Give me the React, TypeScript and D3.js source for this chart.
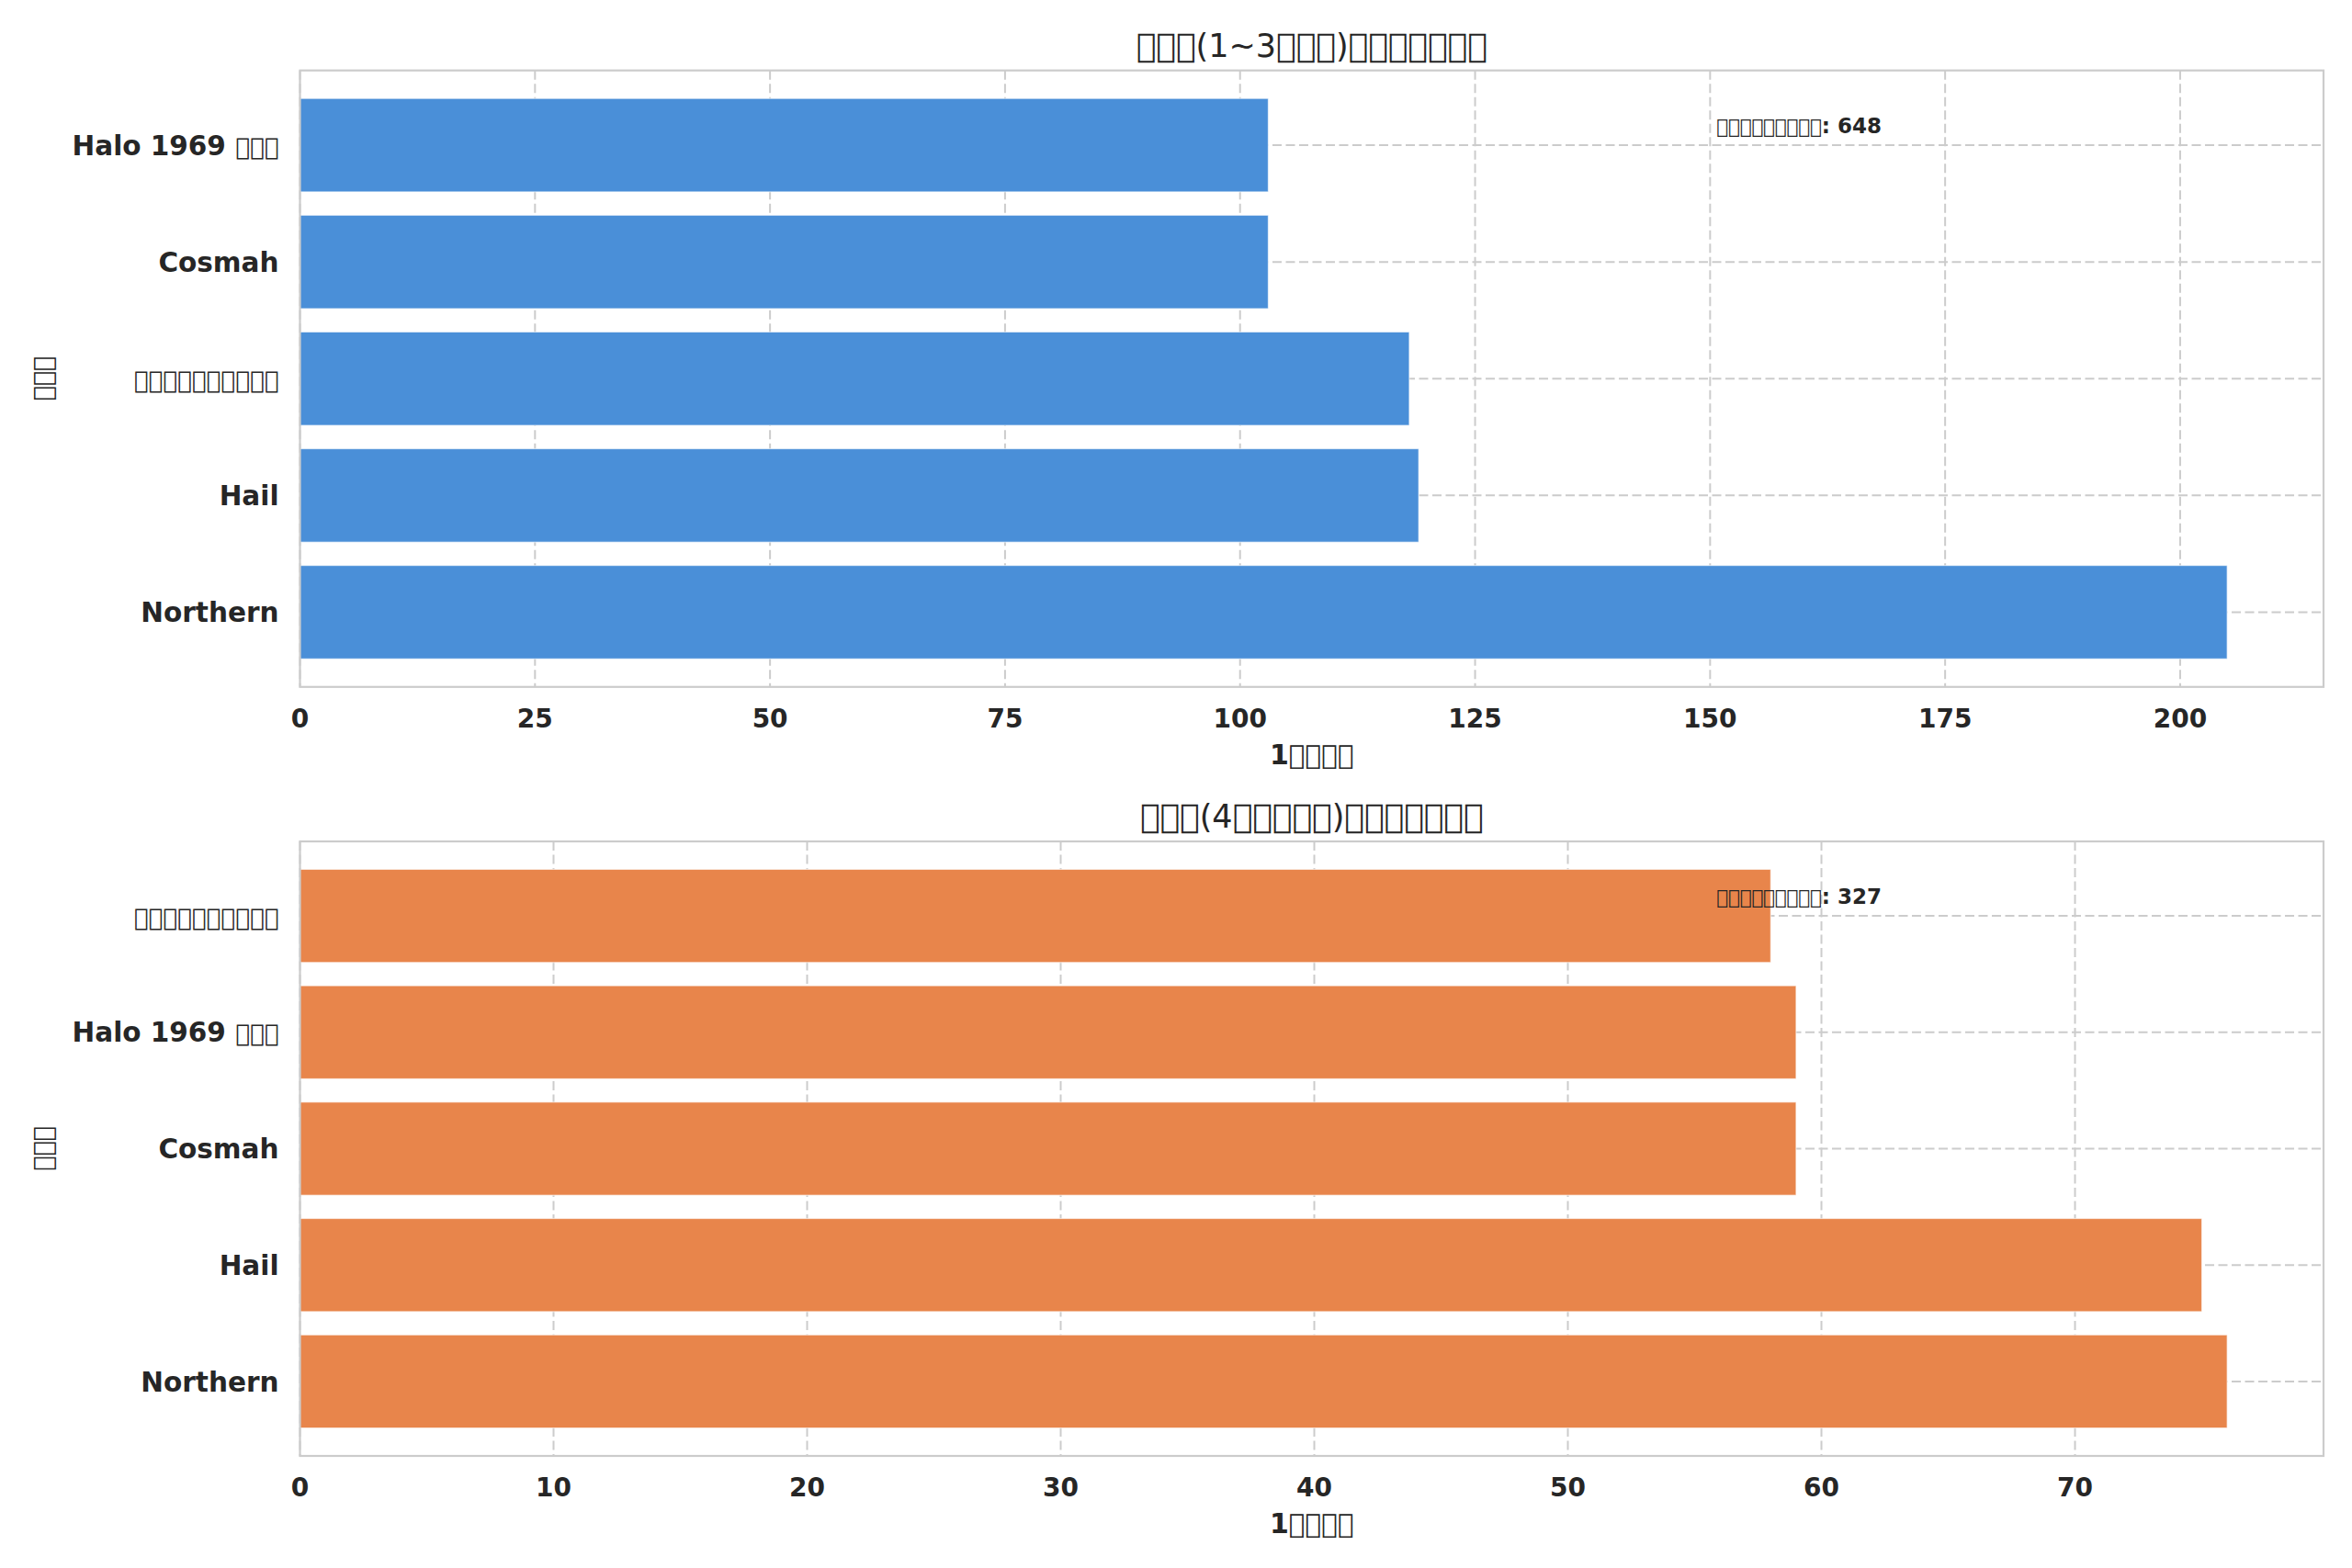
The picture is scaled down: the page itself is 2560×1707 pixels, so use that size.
import React from 'react';
import * as d3 from 'd3';

const BOX = '\uE000';
const bx = (n: number) => BOX.repeat(n);

// Top panel data (bottom-to-top order as drawn)
const topCategories = ['Northern', 'Hail', bx(10), 'Cosmah', `Halo 1969 ${bx(3)}`];
const topValues = [205, 119, 118, 103, 103];
const topTicks = [0, 25, 50, 75, 100, 125, 150, 175, 200];
const topTitle = `${bx(3)}(1~3${bx(3)})${bx(7)}`;
const topNote = `${bx(9)}: 648`;

// Bottom panel data (bottom-to-top order as drawn)
const bottomCategories = ['Northern', 'Hail', 'Cosmah', `Halo 1969 ${bx(3)}`, bx(10)];
const bottomValues = [76, 75, 59, 59, 58];
const bottomTicks = [0, 10, 20, 30, 40, 50, 60, 70];
const bottomTitle = `${bx(3)}(4${bx(5)})${bx(7)}`;
const bottomNote = `${bx(9)}: 327`;

const xLabel = `1${bx(4)}`;
const yLabel = bx(3);

const W = 2560;
const H = 1707;
const FONT = "'DejaVu Sans'";
const TXT = '#262626';
const GRID = '#cccccc';

function Rich({ s, boxSize }: { s: string; boxSize: number }) {
  const parts: { t: string; box: boolean }[] = [];
  for (const ch of s) {
    const isBox = ch === BOX;
    const last = parts[parts.length - 1];
    if (last && last.box === isBox) last.t += ch;
    else parts.push({ t: ch, box: isBox });
  }
  return (
    <>
      {parts.map((p, i) =>
        p.box ? (
          <tspan key={i} fontSize={boxSize} fontWeight="normal">{p.t}</tspan>
        ) : (
          <tspan key={i}>{p.t}</tspan>
        )
      )}
    </>
  );
}

type PanelProps = {
  top: number;
  bottom: number;
  categories: string[];
  values: number[];
  ticks: number[];
  title: string;
  note: string;
  color: string;
};

const LEFT = 326.5;
const RIGHT = 2529;

function Panel({ top, bottom, categories, values, ticks, title, note, color }: PanelProps) {
  const maxV = d3.max(values) as number;
  const x = d3.scaleLinear().domain([0, maxV * 1.05]).range([LEFT, RIGHT]);
  const n = categories.length;
  const lo = -0.4, hi = n - 1 + 0.4;
  const pad = (hi - lo) * 0.05;
  const y = d3.scaleLinear().domain([lo - pad, hi + pad]).range([bottom, top]);
  const barH = y(0) - y(0.8);
  const axH = bottom - top;
  return (
    <g>
      {ticks.map((t) => (
        <line key={'vx' + t} x1={x(t)} x2={x(t)} y1={top} y2={bottom}
          stroke={GRID} strokeWidth={2} strokeDasharray="10,4.5" />
      ))}
      {categories.map((c, i) => (
        <line key={'hy' + i} x1={LEFT} x2={RIGHT} y1={y(i)} y2={y(i)}
          stroke={GRID} strokeWidth={2} strokeDasharray="10,4.5" />
      ))}
      {values.map((v, i) => (
        <rect key={'b' + i} x={x(0)} y={y(i) - barH / 2} width={x(v) - x(0)} height={barH}
          fill={color} stroke="#ffffff" strokeOpacity={0.6} strokeWidth={1.2} />
      ))}
      <rect x={LEFT} y={top} width={RIGHT - LEFT} height={axH} fill="none" stroke={GRID} strokeWidth={2.2} />
      {ticks.map((t) => (
        <text key={'xt' + t} x={x(t)} y={bottom + 44} textAnchor="middle"
          fontFamily={FONT} fontWeight="bold" fontSize={28} fill={TXT}>{t}</text>
      ))}
      {categories.map((c, i) => (
        <text key={'yt' + i} x={LEFT - 23} y={y(i)} dy="0.36em" textAnchor="end"
          fontFamily={FONT} fontWeight="bold" fontSize={29.5} fill={TXT}>
          <Rich s={c} boxSize={26.3} />
        </text>
      ))}
      <text x={(LEFT + RIGHT) / 2} y={top - 15} textAnchor="middle"
        fontFamily={FONT} fontSize={35} fill={TXT}>
        <Rich s={title} boxSize={36} />
      </text>
      <text x={(LEFT + RIGHT) / 2} y={bottom + 84} textAnchor="middle"
        fontFamily={FONT} fontWeight="bold" fontSize={30} fill={TXT}>
        <Rich s={xLabel} boxSize={29.5} />
      </text>
      <text transform={`translate(45,${(top + bottom) / 2}) rotate(-90)`} dy="0.36em" textAnchor="middle"
        fontFamily={FONT} fontWeight="bold" fontSize={30} fill={TXT}>
        <Rich s={yLabel} boxSize={27} />
      </text>
      <text x={LEFT + 0.7 * (RIGHT - LEFT)} y={top + axH * 0.09} dy="0.36em"
        fontFamily={FONT} fontWeight="bold" fontSize={23} fill={TXT}>
        <Rich s={note} boxSize={21.2} />
      </text>
    </g>
  );
}

export default function App() {
  return (
    <svg width={W} height={H} viewBox={`0 0 ${W} ${H}`}
      style={{ position: 'absolute', left: 0, top: 0, background: '#ffffff', display: 'block' }}>
      <rect x={0} y={0} width={W} height={H} fill="#ffffff" />
      <Panel top={76.7} bottom={747.8} categories={topCategories} values={topValues}
        ticks={topTicks} title={topTitle} note={topNote} color="#4A8FD8" />
      <Panel top={916} bottom={1585} categories={bottomCategories} values={bottomValues}
        ticks={bottomTicks} title={bottomTitle} note={bottomNote} color="#E8854B" />
    </svg>
  );
}
